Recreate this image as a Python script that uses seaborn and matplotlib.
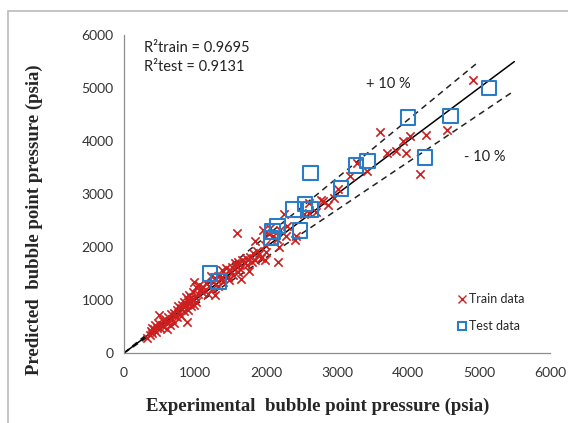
import matplotlib
matplotlib.use("Agg")
import matplotlib.pyplot as plt
import seaborn as sns
import pandas as pd
from matplotlib.lines import Line2D
from matplotlib.patches import Rectangle

# Train data (experimental, predicted)
train_exp = [
    330, 360, 380, 390, 400, 420, 430, 450, 460, 480, 500, 510, 530, 550, 560,
    580, 600, 610, 620, 640, 650, 660, 680, 700, 700,
    720, 740, 750, 760, 780, 800, 810, 820, 840, 850, 860, 870, 880, 890, 900,
    900, 920, 930, 940, 950, 960, 970, 980, 990, 1000, 1010, 1020, 1040, 1060,
    1080, 1100,
    1120, 1150, 1180, 1200, 1220, 1240, 1260, 1280, 1300, 1320, 1350, 1360,
    1380, 1400, 1420, 1440, 1460, 1480, 1500, 1520, 1540, 1560, 1580, 1600,
    1600, 1620, 1640, 1650, 1660,
    1590, 1700, 1720, 1740, 1760, 1780, 1800, 1820, 1840, 1850, 1870, 1900,
    1930, 1960, 1980, 1990, 2000, 2040, 2060, 2100, 2150, 2170, 2180, 2200,
    2250, 2280, 2300,
    2410, 2430, 2540, 2610, 2610, 2710, 2770, 2810, 2870, 2960, 3020, 3180,
    3290, 3420,
    3610, 3700, 3830, 3930, 3970, 4030, 4170, 4250, 4550, 4920,
]
train_pred = [
    290, 340, 420, 470, 380, 450, 520, 400, 480, 560, 720, 470, 520, 600, 500,
    640, 560, 450, 680, 600, 520, 740, 640, 560, 760,
    700, 820, 680, 880, 760, 840, 700, 900, 800, 960, 880, 1060, 920, 590, 1000,
    820, 1100, 940, 880, 1040, 1000, 1160, 900, 1340, 1060, 1240, 960, 1120, 1280,
    1200, 1150,
    1240, 1320, 1120, 1260, 1460, 1200, 1340, 1100, 1400, 1260, 1480, 1420,
    1560, 1340, 1500, 1600, 1440, 1380, 1560, 1620, 1480, 1700, 1640, 1520,
    1720, 1680, 1580, 1400, 1760,
    2260, 1700, 1800, 1660, 1540, 1820, 1720, 1880, 1760, 2110, 1930, 1860,
    1800, 2320, 1760, 2030, 1900, 2250, 2360, 2200, 2150, 1720, 2000, 2330,
    2620, 2210, 2400,
    2130, 2210, 2620, 2650, 2840, 2670, 2890, 2870, 2800, 2930, 3090, 3350,
    3590, 3430,
    4180, 3770, 3810, 4010, 3770, 4090, 3380, 4120, 4200, 5150,
]

# Test data
test_exp = [1210, 1330, 2070, 2090, 2160, 2390, 2480, 2550, 2630, 2630,
            3060, 3270, 3430, 4000, 4240, 4600, 5140]
test_pred = [1500, 1350, 2170, 2290, 2400, 2710, 2310, 2810, 2710, 3400,
             3110, 3540, 3620, 4450, 3690, 4470, 5000]

# reference lines: y = x and +/- 10 %
ideal_x = [0, 5500]
ideal_y = [0, 5500]
plus_x = [0, 5000]
plus_y = [0, 5500]
minus_x = [0, 5500]
minus_y = [0, 4950]

ticks = [0, 1000, 2000, 3000, 4000, 5000, 6000]

train_df = pd.DataFrame({"exp": train_exp, "pred": train_pred})
test_df = pd.DataFrame({"exp": test_exp, "pred": test_pred})

sns.set_style("white")
plt.rcParams['font.family'] = ['Lato', 'DejaVu Sans']

red = "#CC1F1F"
blue = "#2A7CC7"
grey = "#8C8C8C"

fig = plt.figure(figsize=(5.68, 4.23), dpi=100)
ax = fig.add_axes([0.2183, 0.1655, 0.7497, 0.7515])

ax.plot(plus_x, plus_y, color="#222222", lw=1.1, ls=(0, (4, 3)))
ax.plot(minus_x, minus_y, color="#222222", lw=1.1, ls=(0, (4, 3)))
ax.plot(ideal_x, ideal_y, color="black", lw=1.1)

sns.scatterplot(data=train_df, x="exp", y="pred", marker="x", color=red,
                s=36, linewidth=1.2, ax=ax, zorder=3)
sns.scatterplot(data=test_df, x="exp", y="pred", marker="s", facecolor="none",
                edgecolor=blue, s=110, linewidth=1.5, ax=ax, zorder=4)

ax.set_xlim(0, 6000)
ax.set_ylim(0, 6000)
ax.set_xticks(ticks)
ax.set_yticks(ticks)
ax.tick_params(axis="both", labelsize=10, colors="#333333", direction="out",
               length=4, width=0.8, color=grey)
ax.tick_params(axis="x", pad=6)
for side in ["top", "right"]:
    ax.spines[side].set_visible(False)
for side in ["left", "bottom"]:
    ax.spines[side].set_color(grey)
    ax.spines[side].set_linewidth(0.9)

ax.set_xlabel("Experimental  bubble point pressure (psia)", fontsize=13.5,
              fontweight="bold", family="Liberation Serif")
ax.set_ylabel("Predicted  bubble point pressure (psia)", fontsize=13.5,
              fontweight="bold", family="Liberation Serif")
ax.xaxis.set_label_coords(0.455, -0.14)
ax.yaxis.set_label_coords(-0.19, 0.42)

ax.text(280, 5760, "R²train = 0.9695", fontsize=10.5, va="center", color="#222222")
ax.text(280, 5400, "R²test = 0.9131", fontsize=10.5, va="center", color="#222222")
ax.text(3410, 5080, "+ 10 %", fontsize=10.5, va="center", color="#222222")
ax.text(4790, 3700, "- 10 %", fontsize=10.5, va="center", color="#222222")

handles = [
    Line2D([0], [0], marker="x", color=red, ls="none", markersize=6, mew=1.0,
           label="Train data"),
    Line2D([0], [0], marker="s", markerfacecolor="none", markeredgecolor=blue,
           ls="none", markersize=6, mew=1.5, label="Test data"),
]
ax.legend(handles=handles, loc="lower left", bbox_to_anchor=(0.755, 0.03),
          frameon=False, fontsize=9, handlelength=0.8, handletextpad=0.15,
          labelspacing=1.2)

# outer frame around the figure
fig.patches.append(Rectangle((0.014, -0.1), 1.2, 1.074, transform=fig.transFigure,
                             fill=False, edgecolor="#BBBBBB", lw=1.2))

fig.savefig("out.png", dpi=100)
